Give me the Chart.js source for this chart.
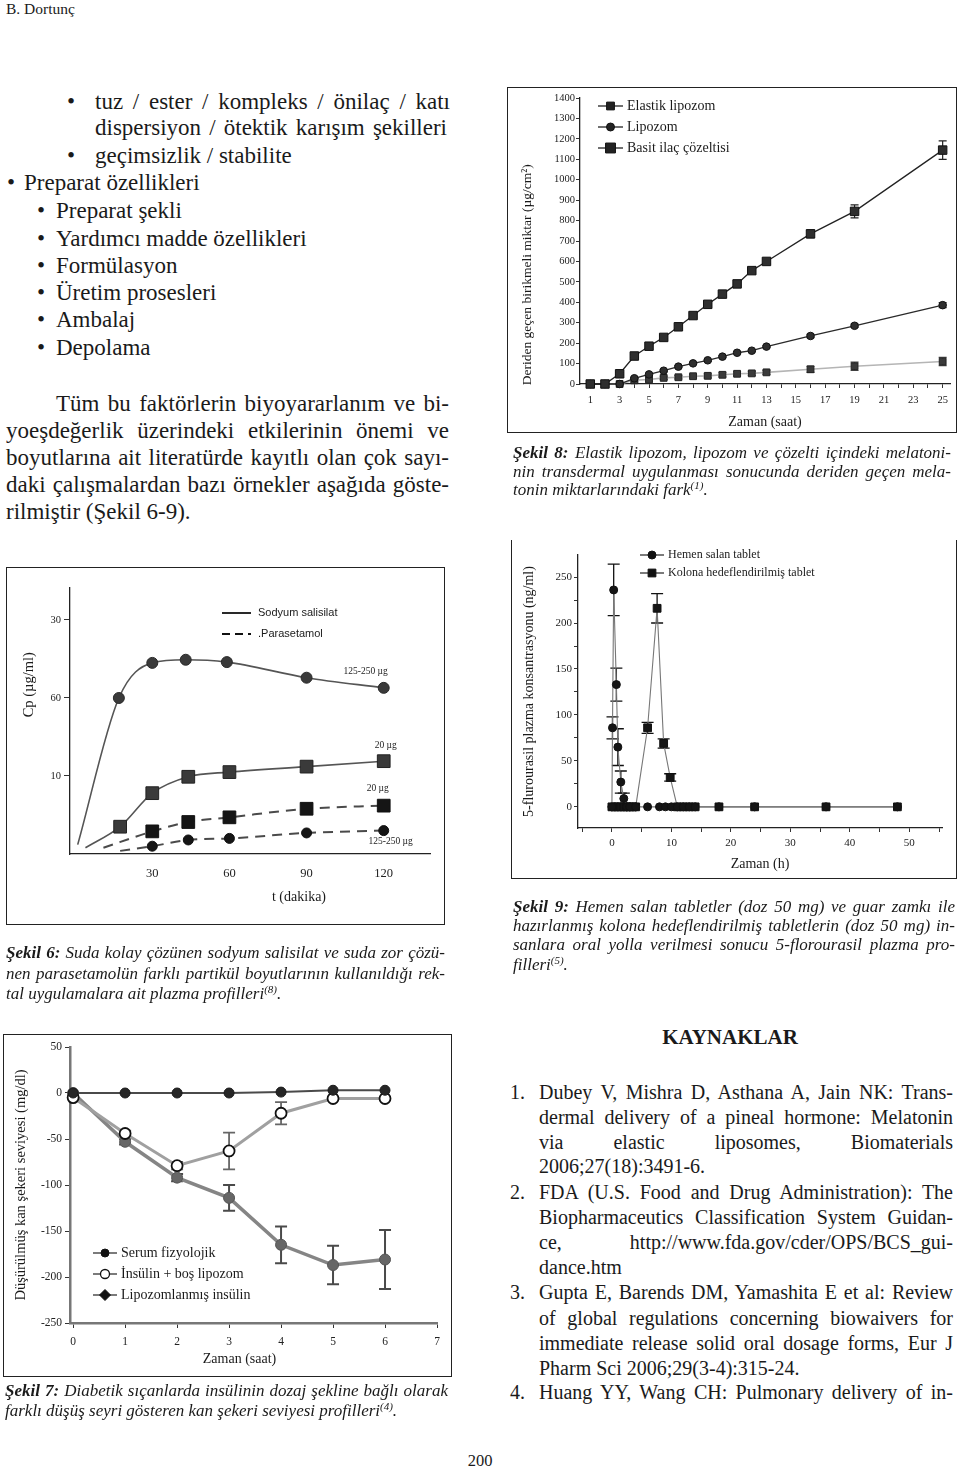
<!DOCTYPE html>
<html lang="tr">
<head>
<meta charset="utf-8">
<title>B. Dortunç - Şekil 6-9</title>
<script src="https://cdn.jsdelivr.net/npm/chart.js@4.4.1/dist/chart.umd.min.js"></script>
<style>
  body { margin: 0; background: #fff; color: #1a1a1a; font-family: "Liberation Serif", "Times New Roman", serif; }
  #page { position: relative; width: 960px; height: 1476px; overflow: hidden; }
  .t { position: absolute; white-space: nowrap; }
  .j { white-space: normal; text-align: justify; text-align-last: justify; }
  .b { font-size: 23px; line-height: 26px; }
  .c { font-size: 17px; line-height: 19px; font-style: italic; }
  .r { font-size: 20px; line-height: 24px; }
  sup { font-size: 11px; line-height: 0; vertical-align: 6px; }
  .fig { position: absolute; }
  .fig canvas { position: absolute; left: 0; top: 0; }
  .fig::after { content: ''; position: absolute; left: 0; top: 0; right: 0; bottom: 0;
                border: 1.5px solid #222; pointer-events: none; }
  .fig.notop::after { border-top: none; }
</style>
</head>
<body>
<div id="page">
  <div class="t" style="left:6px;top:0px;font-size:15.5px;line-height:18px">B. Dortunç</div>

  <div class="t b" style="left:67px;top:89px">•</div>
  <div class="t b j" style="left:95px;top:89px;width:355px">tuz / ester / kompleks / önilaç / katı</div>
  <div class="t b j" style="left:95px;top:115px;width:352px">dispersiyon / ötektik karışım şekilleri</div>
  <div class="t b" style="left:67px;top:143px">•</div>
  <div class="t b" style="left:95px;top:143px">geçimsizlik / stabilite</div>
  <div class="t b" style="left:7px;top:170px">•</div>
  <div class="t b" style="left:24px;top:170px">Preparat özellikleri</div>
  <div class="t b" style="left:37px;top:198px">•</div>
  <div class="t b" style="left:56px;top:198px">Preparat şekli</div>
  <div class="t b" style="left:37px;top:226px">•</div>
  <div class="t b" style="left:56px;top:226px">Yardımcı madde özellikleri</div>
  <div class="t b" style="left:37px;top:253px">•</div>
  <div class="t b" style="left:56px;top:253px">Formülasyon</div>
  <div class="t b" style="left:37px;top:280px">•</div>
  <div class="t b" style="left:56px;top:280px">Üretim prosesleri</div>
  <div class="t b" style="left:37px;top:307px">•</div>
  <div class="t b" style="left:56px;top:307px">Ambalaj</div>
  <div class="t b" style="left:37px;top:335px">•</div>
  <div class="t b" style="left:56px;top:335px">Depolama</div>

  <div class="t b j" style="left:56px;top:391px;width:393px">Tüm bu faktörlerin biyoyararlanım ve bi-</div>
  <div class="t b j" style="left:6px;top:418px;width:443px">yoeşdeğerlik üzerindeki etkilerinin önemi ve</div>
  <div class="t b j" style="left:6px;top:445px;width:443px">boyutlarına ait literatürde kayıtlı olan çok sayı-</div>
  <div class="t b j" style="left:6px;top:472px;width:443px">daki çalışmalardan bazı örnekler aşağıda göste-</div>
  <div class="t b" style="left:6px;top:499px">rilmiştir (Şekil 6-9).</div>

  <div class="fig" style="left:507px;top:87px;width:450px;height:346px"><canvas id="c8" width="450" height="346"></canvas></div>
  <div class="t c j" style="left:513px;top:443px;width:438px"><b>Şekil 8:</b> Elastik lipozom, lipozom ve çözelti içindeki melatoni-</div>
  <div class="t c j" style="left:513px;top:462px;width:438px">nin transdermal uygulanması sonucunda deriden geçen mela-</div>
  <div class="t c" style="left:513px;top:480px">tonin miktarlarındaki fark<sup>(1)</sup>.</div>

  <div class="fig" style="left:6px;top:567px;width:439px;height:358px"><canvas id="c6" width="439" height="358"></canvas></div>
  <div class="t c j" style="left:6px;top:943px;width:439px"><b>Şekil 6:</b> Suda kolay çözünen sodyum salisilat ve suda zor çözü-</div>
  <div class="t c j" style="left:6px;top:964px;width:439px">nen parasetamolün farklı partikül boyutlarının kullanıldığı rek-</div>
  <div class="t c" style="left:6px;top:984px">tal uygulamalara ait plazma profilleri<sup>(8)</sup>.</div>

  <div class="fig notop" style="left:511px;top:540px;width:446px;height:339px"><canvas id="c9" width="446" height="339"></canvas></div>
  <div class="t c j" style="left:513px;top:897px;width:442px"><b>Şekil 9:</b> Hemen salan tabletler (doz 50 mg) ve guar zamkı ile</div>
  <div class="t c j" style="left:513px;top:916px;width:442px">hazırlanmış kolona hedeflendirilmiş tabletlerin (doz 50 mg) in-</div>
  <div class="t c j" style="left:513px;top:935px;width:442px">sanlara oral yolla verilmesi sonucu 5-florourasil plazma pro-</div>
  <div class="t c" style="left:513px;top:955px">filleri<sup>(5)</sup>.</div>

  <div class="fig" style="left:3px;top:1034px;width:449px;height:343px"><canvas id="c7" width="449" height="343"></canvas></div>
  <div class="t c j" style="left:5px;top:1381px;width:443px"><b>Şekil 7:</b> Diabetik sıçanlarda insülinin dozaj şekline bağlı olarak</div>
  <div class="t c" style="left:5px;top:1401px">farklı düşüş seyri gösteren kan şekeri seviyesi profilleri<sup>(4)</sup>.</div>

  <div class="t" style="left:630px;top:1025px;width:200px;text-align:center;font-size:21px;line-height:24px;font-weight:bold">KAYNAKLAR</div>
  <div class="t r" style="left:510px;top:1080px">1.</div>
  <div class="t r j" style="left:539px;top:1080px;width:414px">Dubey V, Mishra D, Asthana A, Jain NK: Trans-</div>
  <div class="t r j" style="left:539px;top:1105px;width:414px">dermal delivery of a pineal hormone: Melatonin</div>
  <div class="t r j" style="left:539px;top:1130px;width:414px">via elastic liposomes, Biomaterials</div>
  <div class="t r" style="left:539px;top:1154px">2006;27(18):3491-6.</div>
  <div class="t r" style="left:510px;top:1180px">2.</div>
  <div class="t r j" style="left:539px;top:1180px;width:414px">FDA (U.S. Food and Drug Administration): The</div>
  <div class="t r j" style="left:539px;top:1205px;width:414px">Biopharmaceutics Classification System Guidan-</div>
  <div class="t r j" style="left:539px;top:1230px;width:414px">ce, http://www.fda.gov/cder/OPS/BCS_gui-</div>
  <div class="t r" style="left:539px;top:1255px">dance.htm</div>
  <div class="t r" style="left:510px;top:1280px">3.</div>
  <div class="t r j" style="left:539px;top:1280px;width:414px">Gupta E, Barends DM, Yamashita E et al: Review</div>
  <div class="t r j" style="left:539px;top:1306px;width:414px">of global regulations concerning biowaivers for</div>
  <div class="t r j" style="left:539px;top:1331px;width:414px">immediate release solid oral dosage forms, Eur J</div>
  <div class="t r" style="left:539px;top:1356px">Pharm Sci 2006;29(3-4):315-24.</div>
  <div class="t r" style="left:510px;top:1380px">4.</div>
  <div class="t r j" style="left:539px;top:1380px;width:414px">Huang YY, Wang CH: Pulmonary delivery of in-</div>

  <div class="t" style="left:455px;top:1451px;width:50px;text-align:center;font-size:16.5px;line-height:20px">200</div>
</div>

<script>
// Şekil 8 - melatonin, deriden geçen birikmeli miktar (µg/cm2)
const hours8 = [1, 2, 3, 4, 5, 6, 7, 8, 9, 10, 11, 12, 13, 16, 19, 25];
const elastik8 = [0, 0, 50, 137, 185, 228, 280, 335, 390, 440, 490, 555, 600, 735, 845, 1145];
const elastikErr8 = [0, 0, 5, 8, 8, 8, 8, 8, 8, 10, 10, 12, 12, 18, 32, 45];
const lipozom8 = [0, 0, 0, 28, 47, 65, 85, 101, 116, 134, 153, 163, 183, 235, 285, 386];
const lipozomErr8 = [0, 0, 0, 5, 5, 5, 5, 5, 5, 5, 5, 5, 5, 8, 8, 12];
const basit8 = [0, 0, 0, 18, 22, 30, 33, 38, 40, 45, 50, 52, 57, 72, 87, 110];
const basitErr8 = [0, 0, 0, 8, 8, 8, 8, 8, 10, 10, 10, 10, 10, 15, 20, 20];
const series8 = ['Elastik lipozom', 'Lipozom', 'Basit ilaç çözeltisi'];
const xTicks8 = [1, 2, 3, 4, 5, 6, 7, 8, 9, 10, 11, 12, 13, 14, 15, 16, 17, 18, 19, 20, 21, 22, 23, 24, 25];
const xLabels8 = [1, 3, 5, 7, 9, 11, 13, 15, 17, 19, 21, 23, 25];
const yTicks8 = [0, 100, 200, 300, 400, 500, 600, 700, 800, 900, 1000, 1100, 1200, 1300, 1400];

// Şekil 6 - Cp, t (dakika)
const salisilatHighT6 = [1, 17, 30, 43, 59, 90, 120];
const salisilatHigh6 = [0.12, 2.0, 2.45, 2.49, 2.46, 2.26, 2.13];
const salisilatLowT6 = [4, 17.5, 30, 44, 60, 90, 120];
const salisilatLow6 = [0.08, 0.35, 0.78, 0.99, 1.05, 1.12, 1.19];
const parasetamolLowT6 = [11, 30, 44, 60, 90, 120];
const parasetamolLow6 = [0.08, 0.29, 0.41, 0.47, 0.58, 0.62];
const parasetamolHighT6 = [17.5, 30, 44, 60, 90, 120];
const parasetamolHigh6 = [0.04, 0.10, 0.18, 0.20, 0.27, 0.30];
const doseTags6 = ['125-250 µg', '20 µg', '20 µg', '125-250 µg'];
const legend6 = ['Sodyum salisilat', '.Parasetamol'];
const xTicks6 = [30, 60, 90, 120];
const yTicks6 = [1, 2, 3];
const yLabels6 = ['10', '60', '30'];

// Şekil 9 - 5-florourasil plazma konsantrasyonu (ng/ml)
const hemenT9 = [0, 0.1, 0.3, 0.75, 1, 1.5, 2, 2.5, 3, 4, 6, 8, 9, 10, 11, 12, 13, 14, 18, 24, 36, 48];
const hemen9 = [0, 86, 236, 133, 65, 27, 9, 0, 0, 0, 0, 0, 0, 0, 0, 0, 0, 0, 0, 0, 0, 0];
const hemenErr9 = [0, 12, 28, 18, 20, 12, 6, 0, 0, 0, 0, 0, 0, 0, 0, 0, 0, 0, 0, 0, 0, 0];
const kolonaT9 = [0, 0.5, 1, 1.5, 2, 2.5, 3, 3.5, 4, 6, 7.6, 8.7, 9.8, 11, 12, 13, 14, 18, 24, 36, 48];
const kolona9 = [0, 0, 0, 0, 0, 0, 0, 0, 0, 86, 216, 69, 32, 0, 0, 0, 0, 0, 0, 0, 0];
const kolonaErr9 = [0, 0, 0, 0, 0, 0, 0, 0, 0, 6, 16, 5, 4, 0, 0, 0, 0, 0, 0, 0, 0];
const series9 = ['Hemen salan tablet', 'Kolona hedeflendirilmiş tablet'];
const xTicks9 = [-5, 0, 5, 10, 15, 20, 25, 30, 35, 40, 45, 50, 55];
const xLabels9 = [0, 10, 20, 30, 40, 50];
const yTicks9 = [0, 25, 50, 75, 100, 125, 150, 175, 200, 225, 250];
const yLabels9 = [0, 50, 100, 150, 200, 250];

// Şekil 7 - düşürülmüş kan şekeri seviyesi (mg/dl)
const hours7 = [0, 1, 2, 3, 4, 5, 6];
const serum7 = [0, 0, 0, 0, 1, 3, 3];
const bosLipozom7 = [-5, -44, -79, -63, -22, -6, -6];
const bosLipozomErr7 = [0, 3, 4, 20, 12, 0, 0];
const lipozomlanmis7 = [0, -53, -92, -114, -165, -187, -181];
const lipozomlanmisErr7 = [0, 3, 4, 14, 20, 21, 32];
const series7 = ['Serum fizyolojik', 'İnsülin + boş lipozom', 'Lipozomlanmış insülin'];
const xTicks7 = [0, 1, 2, 3, 4, 5, 6, 7];
const yTicks7 = [-250, -200, -150, -100, -50, 0, 50];

Chart.defaults.font.family = '"Liberation Serif", "Times New Roman", serif';
Chart.defaults.color = '#222';
Chart.defaults.animation = false;
Chart.defaults.plugins.legend.display = false;
Chart.defaults.plugins.tooltip.enabled = false;

function pts(xs, ys) {
  return xs.map((x, i) => ({ x: x, y: ys[i] }));
}

function drawMarker(ctx, style, x, y, r, fill, stroke, bw) {
  ctx.beginPath();
  if (style === 'rect') {
    const h = r * Math.SQRT1_2;
    ctx.rect(x - h, y - h, 2 * h, 2 * h);
  } else if (style === 'rectRot') {
    ctx.moveTo(x, y - r); ctx.lineTo(x + r, y); ctx.lineTo(x, y + r); ctx.lineTo(x - r, y); ctx.closePath();
  } else if (style === 'circle') {
    ctx.arc(x, y, r, 0, Math.PI * 2);
  } else {
    return;
  }
  ctx.fillStyle = fill;
  ctx.fill();
  if (bw) { ctx.lineWidth = bw; ctx.strokeStyle = stroke; ctx.stroke(); }
}

// vertical error bars drawn from the dataset's own scales
const errorBars = {
  id: 'errorBars',
  beforeDatasetsDraw(chart) {
    const { ctx, scales } = chart;
    chart.data.datasets.forEach((ds) => {
      if (!ds.errors) return;
      ctx.save();
      ctx.strokeStyle = ds.errorColor || '#222';
      ctx.lineWidth = ds.errorWidth || 1.2;
      const cap = ds.errorCap || 4;
      ds.data.forEach((p, j) => {
        const e = ds.errors[j];
        if (!e) return;
        const px = scales.x.getPixelForValue(p.x);
        const top = scales.y.getPixelForValue(p.y + e);
        const bot = scales.y.getPixelForValue(p.y - e);
        ctx.beginPath();
        ctx.moveTo(px, top); ctx.lineTo(px, bot);
        ctx.moveTo(px - cap, top); ctx.lineTo(px + cap, top);
        ctx.moveTo(px - cap, bot); ctx.lineTo(px + cap, bot);
        ctx.stroke();
      });
      ctx.restore();
    });
  }
};

// legend placed inside the figure frame
const boxLegend = {
  id: 'boxLegend',
  afterDraw(chart, args, o) {
    if (!o.items) return;
    const ctx = chart.ctx;
    o.items.forEach((it, k) => {
      const y = o.y + k * o.dy;
      ctx.save();
      ctx.strokeStyle = it.line || '#222';
      ctx.lineWidth = it.lineWidth || 1.3;
      ctx.setLineDash(it.dash || []);
      ctx.beginPath(); ctx.moveTo(o.x, y); ctx.lineTo(o.x + o.len, y); ctx.stroke();
      ctx.setLineDash([]);
      if (it.style) drawMarker(ctx, it.style, o.x + o.len / 2, y, it.r, it.fill, it.stroke, it.bw);
      ctx.font = o.font;
      ctx.fillStyle = '#1a1a1a';
      ctx.textAlign = 'left';
      ctx.textBaseline = 'middle';
      ctx.fillText(it.text, o.x + o.len + o.gap, y);
      ctx.restore();
    });
  }
};

// dose labels next to the last point of a series
const endTags = {
  id: 'endTags',
  afterDatasetsDraw(chart) {
    const ctx = chart.ctx;
    chart.data.datasets.forEach((ds, i) => {
      if (!ds.tag) return;
      const meta = chart.getDatasetMeta(i);
      const last = meta.data[meta.data.length - 1];
      ctx.save();
      ctx.font = '9.5px "Liberation Serif", serif';
      ctx.fillStyle = '#222';
      ctx.textAlign = 'center';
      ctx.textBaseline = 'middle';
      ctx.fillText(ds.tag, last.x + ds.tagDx, last.y + ds.tagDy);
      ctx.restore();
    });
  }
};

function axis(o) {
  return {
    type: 'linear',
    min: o.min,
    max: o.max,
    afterBuildTicks: (s) => { s.ticks = o.ticks.map((v) => ({ value: v })); },
    afterFit: (s) => {
      if (o.width) s.width = o.width;
      if (o.height) s.height = o.height;
    },
    grid: { display: true, drawOnChartArea: false, drawTicks: o.tick > 0, tickLength: o.tick, tickColor: '#333', tickWidth: 1 },
    border: { color: o.borderColor || '#222', width: o.borderWidth || 1.3 },
    ticks: { autoSkip: false, maxRotation: 0, padding: o.pad, font: { size: o.size }, color: '#222', callback: o.label },
    title: { display: true, text: o.title, color: '#1a1a1a', font: { size: o.titleSize }, padding: { top: 4, bottom: o.titleBottom || 4 } }
  };
}

function line(data, st) {
  return Object.assign({ data: data, showLine: true, clip: false, tension: 0 }, st);
}

// ---------- Şekil 8 ----------
new Chart(document.getElementById('c8'), {
  type: 'scatter',
  data: {
    datasets: [
      line(pts(hours8, elastik8), { label: series8[0], borderColor: '#222', borderWidth: 1.3, pointStyle: 'rect', pointRadius: 6,
        backgroundColor: '#2e2e2e', pointBorderColor: '#111', pointBorderWidth: 1, errors: elastikErr8, errorColor: '#222', errorCap: 4 }),
      line(pts(hours8, lipozom8), { label: series8[1], borderColor: '#2a2a2a', borderWidth: 1.3, pointStyle: 'circle', pointRadius: 3.8,
        backgroundColor: '#2e2e2e', pointBorderColor: '#111', pointBorderWidth: 1, errors: lipozomErr8, errorColor: '#333', errorCap: 4 }),
      line(pts(hours8, basit8), { label: series8[2], borderColor: '#b5b5b5', borderWidth: 1.6, pointStyle: 'rect', pointRadius: 4.8,
        backgroundColor: '#3a3a3a', pointBorderColor: '#222', pointBorderWidth: 1, errors: basitErr8, errorColor: '#444', errorCap: 4 })
    ]
  },
  options: {
    responsive: false,
    layout: { padding: { left: 8, right: 5, top: 11, bottom: 0 } },
    scales: {
      x: axis({ min: 0.3, max: 25.5, ticks: xTicks8, tick: 4, pad: 6, size: 10.5, height: 49,
        label: (v) => (xLabels8.includes(v) ? String(v) : ''), title: 'Zaman (saat)', titleSize: 14, titleBottom: 2 }),
      y: axis({ min: 0, max: 1400, ticks: yTicks8, tick: 4, pad: 1, size: 10.5, width: 65,
        label: (v) => String(v), title: 'Deriden geçen birikmeli miktar (µg/cm²)\u2003\u2003\u2003\u2003\u2003', titleSize: 13.5 })
    },
    plugins: {
      boxLegend: { x: 91, y: 19, dy: 21, len: 25, gap: 4, font: '14px "Liberation Serif", serif',
        items: [
          { text: series8[0], style: 'rect', r: 5.5, fill: '#222', stroke: '#111', bw: 1 },
          { text: series8[1], style: 'circle', r: 4, fill: '#222', stroke: '#111', bw: 1 },
          { text: series8[2], style: 'rect', r: 7, fill: '#222', stroke: '#111', bw: 1 }
        ] }
    }
  },
  plugins: [errorBars, boxLegend]
});

// ---------- Şekil 6 ----------
const noFirst = (n, r) => [0].concat(Array(n - 1).fill(r));
new Chart(document.getElementById('c6'), {
  type: 'scatter',
  data: {
    datasets: [
      line(pts(salisilatHighT6, salisilatHigh6), { borderColor: '#555', borderWidth: 1.6, cubicInterpolationMode: 'monotone', tension: 0.4,
        pointStyle: 'circle', pointRadius: noFirst(salisilatHighT6.length, 5.5), backgroundColor: '#3a3a3a', pointBorderColor: '#2a2a2a', pointBorderWidth: 1,
        tag: doseTags6[0], tagDx: -18, tagDy: -16 }),
      line(pts(salisilatLowT6, salisilatLow6), { borderColor: '#555', borderWidth: 1.6, cubicInterpolationMode: 'monotone', tension: 0.4,
        pointStyle: 'rect', pointRadius: noFirst(salisilatLowT6.length, 9), backgroundColor: '#3a3a3a', pointBorderColor: '#222', pointBorderWidth: 1,
        tag: doseTags6[1], tagDx: 2, tagDy: -16 }),
      line(pts(parasetamolLowT6, parasetamolLow6), { borderColor: '#4a4a4a', borderWidth: 2, borderDash: [10, 7], cubicInterpolationMode: 'monotone', tension: 0.4,
        pointStyle: 'rect', pointRadius: noFirst(parasetamolLowT6.length, 9), backgroundColor: '#151515', pointBorderColor: '#111', pointBorderWidth: 1,
        tag: doseTags6[2], tagDx: -6, tagDy: -17 }),
      line(pts(parasetamolHighT6, parasetamolHigh6), { borderColor: '#4a4a4a', borderWidth: 2, borderDash: [10, 7], cubicInterpolationMode: 'monotone', tension: 0.4,
        pointStyle: 'circle', pointRadius: noFirst(parasetamolHighT6.length, 5), backgroundColor: '#151515', pointBorderColor: '#111', pointBorderWidth: 1,
        tag: doseTags6[3], tagDx: 7, tagDy: 11 })
    ]
  },
  options: {
    responsive: false,
    layout: { padding: { left: 10, right: 15, top: 21, bottom: 15 } },
    scales: {
      x: axis({ min: -2, max: 138, ticks: xTicks6, tick: 0, pad: 12, size: 12.5, height: 56,
        label: (v) => String(v), title: '\u2003\u2003\u2003\u2003\u2003\u2003\u2003t (dakika)', titleSize: 14, titleBottom: 4 }),
      y: axis({ min: 0, max: 3.41, ticks: yTicks6, tick: 6, pad: 3, size: 10.5, width: 54,
        label: (v) => yLabels6[yTicks6.indexOf(v)] || '', title: '\u2003\u2003\u2003\u2003\u2003Cp (µg/ml)', titleSize: 14.5 })
    },
    plugins: {
      boxLegend: { x: 216, y: 46, dy: 21, len: 29, gap: 7, font: '11px "Liberation Sans", sans-serif',
        items: [
          { text: legend6[0], line: '#111', lineWidth: 1.8 },
          { text: legend6[1], line: '#111', lineWidth: 2, dash: [8, 5] }
        ] }
    }
  },
  plugins: [boxLegend, endTags]
});

// ---------- Şekil 9 ----------
new Chart(document.getElementById('c9'), {
  type: 'scatter',
  data: {
    datasets: [
      line(pts(hemenT9, hemen9), { label: series9[0], borderColor: '#777', borderWidth: 1.1, pointStyle: 'circle', pointRadius: 4,
        backgroundColor: '#151515', pointBorderColor: '#111', pointBorderWidth: 1, errors: hemenErr9, errorColor: '#111', errorCap: 6, errorWidth: 1.3 }),
      line(pts(kolonaT9, kolona9), { label: series9[1], borderColor: '#777', borderWidth: 1.1, pointStyle: 'rect', pointRadius: 5.5,
        backgroundColor: '#151515', pointBorderColor: '#111', pointBorderWidth: 1, errors: kolonaErr9, errorColor: '#111', errorCap: 6, errorWidth: 1.3 })
    ]
  },
  options: {
    responsive: false,
    layout: { padding: { left: 6, right: 15, top: 15, bottom: 2 } },
    scales: {
      x: axis({ min: -5.7, max: 55.5, ticks: xTicks9, tick: 4, pad: 5, size: 11, height: 49,
        label: (v) => (xLabels9.includes(v) ? String(v) : ''), title: 'Zaman (h)', titleSize: 14, titleBottom: 4 }),
      y: axis({ min: -23, max: 274, ticks: yTicks9, tick: 4, pad: 2, size: 11, width: 61,
        label: (v) => (yLabels9.includes(v) ? String(v) : ''), title: '5-flurourasil plazma konsantrasyonu (ng/ml)', titleSize: 14 })
    },
    plugins: {
      boxLegend: { x: 129, y: 15, dy: 18, len: 24, gap: 4, font: '12px "Liberation Serif", serif',
        items: [
          { text: series9[0], style: 'circle', r: 4, fill: '#111', stroke: '#111', bw: 1, line: '#333' },
          { text: series9[1], style: 'rect', r: 5.5, fill: '#111', stroke: '#111', bw: 1, line: '#333' }
        ] }
    }
  },
  plugins: [errorBars, boxLegend]
});

// ---------- Şekil 7 ----------
new Chart(document.getElementById('c7'), {
  type: 'scatter',
  data: {
    datasets: [
      line(pts(hours7, serum7), { label: series7[0], borderColor: '#4a4a4a', borderWidth: 2, pointStyle: 'circle', pointRadius: 5,
        backgroundColor: '#262626', pointBorderColor: '#1a1a1a', pointBorderWidth: 1 }),
      line(pts(hours7, bosLipozom7), { label: series7[1], borderColor: '#a0a0a0', borderWidth: 3, pointStyle: 'circle', pointRadius: 5.5,
        backgroundColor: '#ffffff', pointBorderColor: '#111', pointBorderWidth: 1.8, errors: bosLipozomErr7, errorColor: '#666', errorCap: 6, errorWidth: 1.8 }),
      line(pts(hours7, lipozomlanmis7), { label: series7[2], borderColor: '#858585', borderWidth: 3.5, pointStyle: 'circle', pointRadius: 5.5,
        backgroundColor: '#666', pointBorderColor: '#555', pointBorderWidth: 1, errors: lipozomlanmisErr7, errorColor: '#4a4a4a', errorCap: 6, errorWidth: 2 })
    ]
  },
  options: {
    responsive: false,
    layout: { padding: { left: 5, right: 15, top: 13, bottom: 5 } },
    scales: {
      x: axis({ min: -0.06, max: 7, ticks: xTicks7, tick: 5, pad: 7, size: 11.5, height: 49, borderColor: '#777', borderWidth: 2.5,
        label: (v) => String(v), title: 'Zaman (saat)\u2003\u2003', titleSize: 14, titleBottom: 4 }),
      y: axis({ min: -250, max: 50, ticks: yTicks7, tick: 5, pad: 3, size: 11.5, width: 62, borderColor: '#777', borderWidth: 2.5,
        label: (v) => String(v), title: 'Düşürülmüş kan şekeri seviyesi (mg/dl)', titleSize: 14.5 })
    },
    plugins: {
      boxLegend: { x: 90, y: 219, dy: 21, len: 24, gap: 4, font: '14px "Liberation Serif", serif',
        items: [
          { text: series7[0], style: 'circle', r: 4, fill: '#111', stroke: '#111', bw: 1, line: '#333' },
          { text: series7[1], style: 'circle', r: 4.5, fill: '#fff', stroke: '#111', bw: 1.3, line: '#333' },
          { text: series7[2], style: 'rectRot', r: 5.5, fill: '#111', stroke: '#111', bw: 1, line: '#333' }
        ] }
    }
  },
  plugins: [errorBars, boxLegend]
});
</script>
</body>
</html>
